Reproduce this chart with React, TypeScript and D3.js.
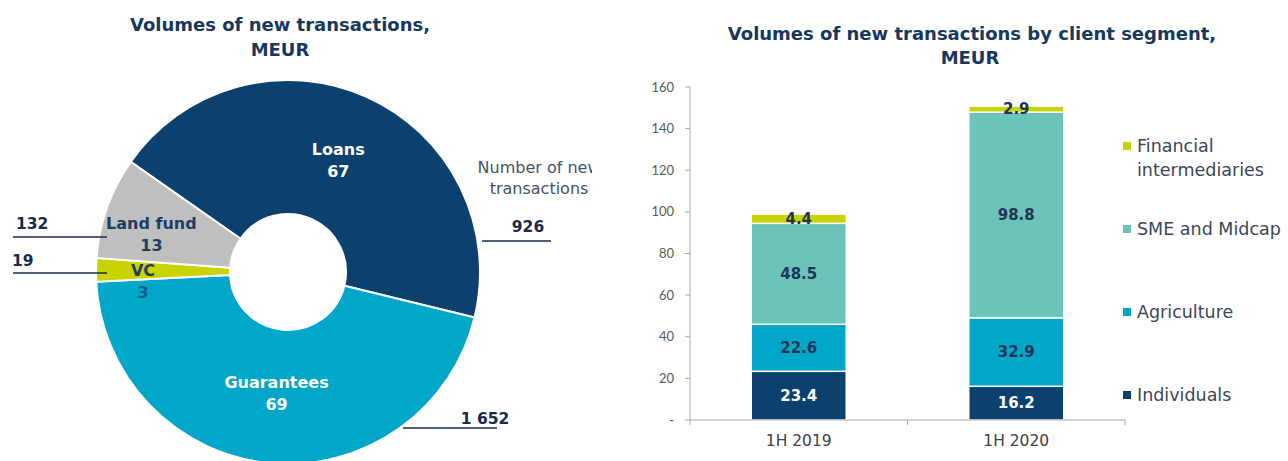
import { useMemo } from "react";
import * as d3 from "d3";

const W = 1288;
const H = 461;

// Donut: volumes of new transactions, MEUR (clockwise order)
const pieNames = ["Loans", "Guarantees", "VC", "Land fund"];
const pieVolumes = [67, 69, 3, 13];
const pieCounts = ["926", "1 652", "19", "132"];
const pieColors = ["#0c416f", "#00a7c9", "#c8d400", "#bfbfbf"];

// Stacked bars: volumes by client segment, MEUR
const periods = ["1H 2019", "1H 2020"];
const segments = ["Individuals", "Agriculture", "SME and Midcap", "Financial intermediaries"];
const individuals = [23.4, 16.2];
const agriculture = [22.6, 32.9];
const smeMidcap = [48.5, 98.8];
const financialInt = [4.4, 2.9];
const segColors = ["#0c416f", "#00a7c9", "#6cc3b9", "#c8d400"];
const yTicks = [0, 20, 40, 60, 80, 100, 120, 140, 160];

const NAVY = "#17375e";
const WIDE = "'DejaVu Sans', Verdana, sans-serif";
const THIN = "Lato, 'Open Sans', sans-serif";

export default function App() {
  // donut geometry
  const cx = 288;
  const cy = 272;
  const R = 192;
  const r0 = 58;

  const arcs = useMemo(() => {
    const pie = d3
      .pie<number>()
      .sort(null)
      .value((d) => d)
      .startAngle((-55 * Math.PI) / 180)
      .endAngle((-55 * Math.PI) / 180 + 2 * Math.PI);
    return pie(pieVolumes);
  }, []);

  const arcGen = d3.arc<d3.PieArcDatum<number>>().innerRadius(r0).outerRadius(R);
  const labelArc = (rad: number) =>
    d3.arc<d3.PieArcDatum<number>>().innerRadius(rad).outerRadius(rad);

  // annotation lines for number of transactions, relative to donut centre
  const notes = [
    { dy: -31, x1: 194, x2: 263, tx: 240, ty: -40, anchor: "middle" },
    { dy: 156, x1: 115, x2: 209, tx: 197, ty: 152, anchor: "middle" },
    { dy: 1, x1: -275, x2: -181, tx: -276, ty: -6, anchor: "start" },
    { dy: -35, x1: -275, x2: -181, tx: -272, ty: -43, anchor: "start" },
  ];

  // bar chart
  const x = d3.scaleBand<string>().domain(periods).range([690, 1125]);
  const y = d3.scaleLinear().domain([0, 160]).range([420, 87]);
  const barW = 95;

  const rows = periods.map((p, i) => ({
    period: p,
    Individuals: individuals[i],
    Agriculture: agriculture[i],
    "SME and Midcap": smeMidcap[i],
    "Financial intermediaries": financialInt[i],
  }));
  const stacked = d3.stack<any>().keys(segments)(rows);

  const legendY = d3
    .scalePoint<string>()
    .domain([...segments].reverse())
    .range([146, 395]);

  const fmt = d3.format(".1f");

  return (
    <svg
      width={W}
      height={H}
      style={{ position: "absolute", left: 0, top: 0, display: "block", background: "#fff" }}
      fontFamily={WIDE}
    >
      <defs>
        <clipPath id="leftPanel">
          <rect x={0} y={0} width={592} height={H} />
        </clipPath>
      </defs>

      {/* ---------- left: donut ---------- */}
      <g clipPath="url(#leftPanel)">
        <text x={280} y={31} textAnchor="middle" fontSize={18} fontWeight={700} fill={NAVY}>
          Volumes of new transactions,
        </text>
        <text x={280} y={56} textAnchor="middle" fontSize={18} fontWeight={700} fill={NAVY}>
          MEUR
        </text>

        <g transform={`translate(${cx},${cy})`}>
          {arcs.map((a, i) => (
            <path key={i} d={arcGen(a) || ""} fill={pieColors[i]} stroke="#fff" strokeWidth={2} />
          ))}
          {arcs.map((a, i) => {
            const small = a.data < 20;
            const [lx, ly] = labelArc(small ? 145 : 122).centroid(a);
            const top = small ? ly : ly - 11;
            const light = !small;
            return (
              <g key={i} fontWeight={700} fontSize={16} textAnchor="middle">
                <text x={lx} y={top} dy="0.35em" fill={light ? "#fff" : "#1e3d63"}>
                  {pieNames[i]}
                </text>
                <text
                  x={lx}
                  y={top + 22}
                  dy="0.35em"
                  fill={light ? "#fff" : i === 2 ? "#1d5a86" : "#1e3d63"}
                >
                  {pieVolumes[i]}
                </text>
              </g>
            );
          })}

          {notes.map((n, i) => (
            <g key={i}>
              <line x1={n.x1} x2={n.x2} y1={n.dy} y2={n.dy} stroke="#1b2a4a" strokeWidth={1.5} />
              <text
                x={n.tx}
                y={n.ty}
                textAnchor={n.anchor as any}
                fontSize={15.5}
                fontWeight={700}
                fill="#1b2a4a"
              >
                {pieCounts[i]}
              </text>
            </g>
          ))}
        </g>

        <text x={539} y={173} textAnchor="middle" fontSize={16} fill="#44546a">
          Number of new
        </text>
        <text x={539} y={194} textAnchor="middle" fontSize={16} fill="#44546a">
          transactions
        </text>
      </g>

      {/* ---------- right: stacked bars ---------- */}
      <text x={972} y={40} textAnchor="middle" fontSize={18} fontWeight={700} fill={NAVY}>
        Volumes of new transactions by client segment,
      </text>
      <text x={970} y={64} textAnchor="middle" fontSize={18} fontWeight={700} fill={NAVY}>
        MEUR
      </text>

      {/* y axis */}
      <line x1={690} x2={690} y1={y(160)} y2={y(0)} stroke="#a6a6a6" strokeWidth={1} />
      {yTicks.map((t) => (
        <g key={t}>
          <line x1={685} x2={690} y1={y(t)} y2={y(t)} stroke="#a6a6a6" />
          <text
            x={674}
            y={y(t)}
            dy="0.35em"
            textAnchor="end"
            fontSize={13}
            fill="#595959"
            fontFamily={THIN}
          >
            {t === 0 ? "-" : t}
          </text>
        </g>
      ))}

      {/* bars */}
      {stacked.map((layer, si) =>
        layer.map((d, pi) => {
          const bx = (x(periods[pi]) as number) + x.bandwidth() / 2 - barW / 2;
          const y0 = y(d[0]);
          const y1 = y(d[1]);
          return (
            <rect
              key={`${si}-${pi}`}
              x={bx}
              y={y1}
              width={barW}
              height={y0 - y1}
              fill={segColors[si]}
              stroke="#fff"
              strokeWidth={1.5}
            />
          );
        })
      )}
      {stacked.map((layer, si) =>
        layer.map((d, pi) => {
          const cxBar = (x(periods[pi]) as number) + x.bandwidth() / 2;
          return (
            <text
              key={`t${si}-${pi}`}
              x={cxBar}
              y={(y(d[0]) + y(d[1])) / 2}
              dy="0.35em"
              textAnchor="middle"
              fontSize={15}
              fontWeight={700}
              fill={si === 0 ? "#fff" : "#1e3558"}
            >
              {fmt(d[1] - d[0])}
            </text>
          );
        })
      )}

      {/* x axis */}
      <line x1={690} x2={1125} y1={y(0)} y2={y(0)} stroke="#a6a6a6" />
      {[690, ...periods.map((p) => (x(p) as number) + x.bandwidth())].map((tx) => (
        <line key={tx} x1={tx} x2={tx} y1={y(0)} y2={y(0) + 5} stroke="#a6a6a6" />
      ))}
      {periods.map((p) => (
        <text
          key={p}
          x={(x(p) as number) + x.bandwidth() / 2}
          y={446}
          textAnchor="middle"
          fontSize={15.5}
          fill="#404040"
        >
          {p}
        </text>
      ))}

      {/* legend */}
      {segments.map((s, i) => {
        const ly = legendY(s) as number;
        const lines = s === "Financial intermediaries" ? ["Financial", "intermediaries"] : [s];
        return (
          <g key={s}>
            <rect x={1123} y={ly - 4} width={8} height={8} fill={segColors[i]} />
            {lines.map((ln, k) => (
              <text key={k} x={1137} y={ly + k * 24} dy="0.35em" fontSize={17.5} fill="#3b4758">
                {ln}
              </text>
            ))}
          </g>
        );
      })}
    </svg>
  );
}
